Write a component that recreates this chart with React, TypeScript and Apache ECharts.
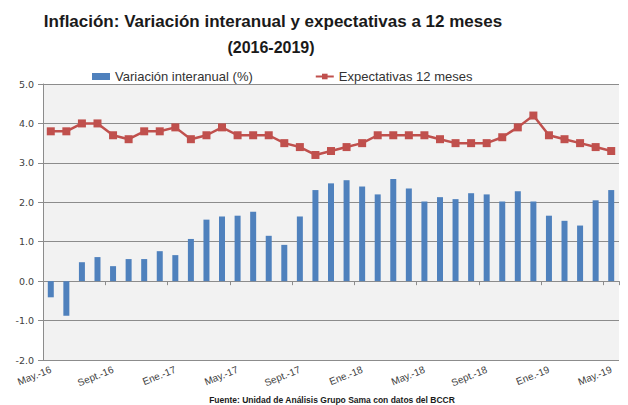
import React, { useEffect, useRef } from "react";
import * as echarts from "echarts";

const categories: string[] = [
  "May.-16", "Jun.-16", "Jul.-16", "Ago.-16", "Sept.-16", "Oct.-16", "Nov.-16", "Dic.-16",
  "Ene.-17", "Feb.-17", "Mar.-17", "Abr.-17", "May.-17", "Jun.-17", "Jul.-17", "Ago.-17",
  "Sept.-17", "Oct.-17", "Nov.-17", "Dic.-17", "Ene.-18", "Feb.-18", "Mar.-18", "Abr.-18",
  "May.-18", "Jun.-18", "Jul.-18", "Ago.-18", "Sept.-18", "Oct.-18", "Nov.-18", "Dic.-18",
  "Ene.-19", "Feb.-19", "Mar.-19", "Abr.-19", "May.-19",
];

const variacionInteranual: number[] = [
  -0.41, -0.88, 0.48, 0.61, 0.38, 0.56, 0.56, 0.76,
  0.66, 1.07, 1.56, 1.64, 1.66, 1.76, 1.15, 0.92,
  1.64, 2.31, 2.48, 2.56, 2.40, 2.20, 2.59, 2.35,
  2.02, 2.13, 2.08, 2.23, 2.20, 2.02, 2.28, 2.02,
  1.66, 1.53, 1.41, 2.05, 2.31,
];

const expectativas12: number[] = [
  3.8, 3.8, 4.0, 4.0, 3.7, 3.6, 3.8, 3.8,
  3.9, 3.6, 3.7, 3.9, 3.7, 3.7, 3.7, 3.5,
  3.4, 3.2, 3.3, 3.4, 3.5, 3.7, 3.7, 3.7,
  3.7, 3.6, 3.5, 3.5, 3.5, 3.65, 3.9, 4.2,
  3.7, 3.6, 3.5, 3.4, 3.3,
];

const titleText = "Inflación: Variación interanual y expectativas a 12 meses";
const subtitleText = "(2016-2019)";
const sourceText = "Fuente: Unidad de Análisis Grupo Sama con datos del BCCR";
const seriesNames = ["Variación interanual (%)", "Expectativas 12 meses"];

export default function App() {
  const ref = useRef<HTMLDivElement>(null);

  useEffect(() => {
    if (!ref.current) return;
    const chart = echarts.init(ref.current, undefined, { renderer: "svg" });
    const grey = "#8c8c8c";
    chart.setOption({
      animation: false,
      backgroundColor: "#ffffff",
      graphic: [
        {
          type: "text",
          x: 273,
          y: 21,
          style: {
            text: titleText,
            fontFamily: "Liberation Sans",
            fontWeight: "bold",
            fontSize: 17,
            fill: "#1a1a1a",
            align: "center",
            verticalAlign: "middle",
          },
        },
        {
          type: "text",
          x: 271,
          y: 47,
          style: {
            text: subtitleText,
            fontFamily: "Liberation Sans",
            fontWeight: "bold",
            fontSize: 16,
            fill: "#1a1a1a",
            align: "center",
            verticalAlign: "middle",
          },
        },
        {
          type: "text",
          x: 332,
          y: 400,
          style: {
            text: sourceText,
            fontFamily: "Liberation Sans",
            fontWeight: "bold",
            fontSize: 8.5,
            fill: "#1a1a1a",
            align: "center",
            verticalAlign: "middle",
          },
        },
      ],
      legend: {
        left: 87,
        top: 65,
        itemWidth: 18,
        itemHeight: 7,
        itemGap: 62,
        data: [
          { name: seriesNames[0], icon: "rect" },
          { name: seriesNames[1] },
        ],
        textStyle: {
          fontFamily: "Liberation Sans",
          fontSize: 13,
          color: "#333333",
        },
      },
      grid: {
        left: 43,
        right: 9,
        top: 84,
        bottom: 45,
        show: true,
        backgroundColor: "#f2f2f2",
        borderWidth: 0,
      },
      xAxis: [
        {
          type: "category",
          data: categories,
          position: "bottom",
          boundaryGap: true,
          axisLine: { show: false, onZero: false },
          axisTick: { show: false },
          axisLabel: {
            interval: 3,
            rotate: 22,
            margin: 9,
            fontFamily: "Liberation Sans",
            fontSize: 10,
            color: "#404040",
          },
          splitLine: { show: false },
        },
        {
          type: "category",
          data: categories,
          position: "top",
          boundaryGap: true,
          axisLine: { show: true, onZero: true, lineStyle: { color: grey } },
          axisTick: {
            show: true,
            interval: 3,
            inside: true,
            length: 4,
            lineStyle: { color: grey },
          },
          axisLabel: { show: false },
          splitLine: { show: false },
        },
      ],
      yAxis: {
        type: "value",
        min: -2,
        max: 5,
        interval: 1,
        axisLine: { show: true, lineStyle: { color: grey } },
        axisTick: { show: true, length: 5, lineStyle: { color: grey } },
        axisLabel: {
          margin: 9,
          formatter: (v: number) => v.toFixed(1),
          fontFamily: "DejaVu Sans",
          fontSize: 9.5,
          color: "#404040",
        },
        splitLine: { show: true, lineStyle: { color: grey, width: 1 } },
      },
      series: [
        {
          name: seriesNames[0],
          type: "bar",
          xAxisIndex: 0,
          data: variacionInteranual,
          barWidth: 6,
          itemStyle: { color: "#4f81bd" },
        },
        {
          name: seriesNames[1],
          type: "line",
          xAxisIndex: 0,
          data: expectativas12,
          symbol: "rect",
          symbolSize: 8,
          lineStyle: { color: "#c0504d", width: 2.5 },
          itemStyle: { color: "#c0504d" },
        },
      ],
    });
    return () => chart.dispose();
  }, []);

  return <div ref={ref} style={{ width: 628, height: 405, position: "absolute", left: 0, top: 0 }} />;
}
